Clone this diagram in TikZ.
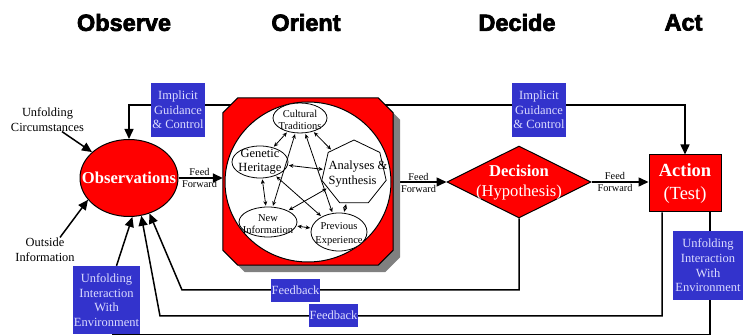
\documentclass[tikz,border=0pt]{standalone}
\usepackage{fontspec}
\setmainfont{Liberation Serif}
\newfontface\titlefont[FakeBold=3]{Liberation Sans Bold}
\usetikzlibrary{shapes.geometric,arrows.meta}
\pgfdeclarelayer{background}
\pgfsetlayers{background,main}
\definecolor{obred}{RGB}{255,0,0}
\definecolor{obblue}{RGB}{51,51,204}
\definecolor{oblav}{RGB}{220,220,255}
\definecolor{obshadow}{RGB}{128,128,128}
\newcommand\fsz[2]{\fontsize{#1}{#2}\selectfont}
\newcommand\octpath[1]{([xshift=15pt]#1.north west) -- ([xshift=-15pt]#1.north east) -- ([yshift=-15pt]#1.north east) -- ([yshift=15pt]#1.south east) -- ([xshift=-15pt]#1.south east) -- ([xshift=15pt]#1.south west) -- ([yshift=15pt]#1.south west) -- ([yshift=-15pt]#1.north west) -- cycle}
\begin{document}
\begin{tikzpicture}[x=1pt,y=-1pt,
 flow/.style={line width=1.5pt, -{Triangle[length=10pt,width=9pt]}},
 plain/.style={line width=1.5pt},
 title/.style={font=\titlefont\fsz{23.5}{26}, inner sep=0},
 bluebox/.style={fill=obblue, text=oblav, align=center, inner sep=0, font=\fsz{12.5}{14.6}},
 inner/.style={ellipse, draw, fill=white, line width=0.8pt, inner sep=0},
 ilab/.style={font=\fsz{10.5}{12.5}, align=center, inner sep=0},
 link/.style={line width=0.8pt, {Stealth[length=4.5pt,width=4pt]}-{Stealth[length=4.5pt,width=4pt]}, shorten <=1pt, shorten >=1pt},
 ff/.style={font=\fsz{10.3}{12}, align=center, inner sep=0},
 side/.style={font=\fsz{12.4}{15}, align=center, inner sep=0},
 octbox/.style={rectangle, minimum width=170pt, minimum height=167pt, inner sep=0},
]
\useasboundingbox (0,0) rectangle (744,336);
\clip (0,0) rectangle (744,336);

% titles
\node[title] (tobs) at (124,22.5) {Observe};
\node[title] (tori) at (306,22.5) {Orient};
\node[title] (tdec) at (517,22.5) {Decide};
\node[title] (tact) at (683.5,22.5) {Act};

% observations
\node[ellipse, draw, fill=obred, line width=1pt, minimum width=98pt, minimum height=77pt, inner sep=0,
  label={[text=white, font=\bfseries\fsz{16.6}{18}, inner sep=0]center:Observations}] (obs) at (129,178) {};

% orient
\node[octbox] (orsh) at (315,188.5) {};
\fill[obshadow] \octpath{orsh};
\node[octbox] (orient) at (308,181.5) {};
\filldraw[fill=obred, line width=1pt] \octpath{orient};
\node[ellipse, draw, fill=white, line width=1pt, minimum width=166pt, minimum height=160pt, inner sep=0] (orc) at (308,182) {};

\node[inner, minimum width=54pt, minimum height=30pt, label={[ilab, yshift=-2pt]center:Cultural\\Traditions}] (cult) at (300,118) {};
\node[inner, minimum width=56pt, minimum height=32pt, label={[ilab, font=\fsz{12.5}{14}]center:Genetic\\Heritage}] (gen) at (260,162) {};
\node[regular polygon, regular polygon sides=7, draw, fill=white, line width=0.8pt, minimum size=66pt, inner sep=0,
  label={[ilab, font=\fsz{12.5}{15}, align=left, xshift=4pt, yshift=-1pt]center:Analyses \&\\Synthesis}] (ana) at (354,173) {};
\node[inner, minimum width=58pt, minimum height=30pt, label={[ilab, yshift=-2pt]center:New\\Information}] (newi) at (268,222) {};
\node[inner, minimum width=56pt, minimum height=38pt, label={[ilab, font=\fsz{10.5}{13.5}, yshift=-2pt]center:Previous\\Experience}] (prev) at (339,232) {};

\draw[link] (cult) -- (gen);
\draw[link] (cult) -- (ana);
\draw[link] (gen) -- (newi);
\draw[link] (ana) -- (prev);
\draw[link] (newi) -- (prev);
\draw[link] (gen) -- (ana);
\draw[link] (cult) -- (newi);
\draw[link] (cult) -- (prev);
\draw[link] (gen) -- (prev);
\draw[link] (ana) -- (newi);

% decision
\node[diamond, draw, fill=obred, line width=1pt, minimum width=144pt, minimum height=72pt, inner sep=0,
  label={[text=white, font=\fsz{16.6}{20}, align=center, inner sep=0, yshift=-1pt]center:\textbf{Decision}\\(Hypothesis)}] (dec) at (519,182) {};

% action
\node[rectangle, draw, fill=obred, line width=1pt, minimum width=72pt, minimum height=57pt, inner sep=0,
  text=white, font=\fsz{18.5}{23}, align=center] (act) at (685,183.5) {\textbf{Action}\\(Test)};

% blue boxes
\node[bluebox, minimum width=54pt, minimum height=54pt] (ig1) at (178,110) {Implicit\\Guidance\\\& Control};
\node[bluebox, minimum width=54pt, minimum height=54pt] (ig2) at (539,110) {Implicit\\Guidance\\\& Control};
\node[bluebox, minimum width=49pt, minimum height=23pt] (fbk1) at (295.5,290.5) {Feedback};
\node[bluebox, minimum width=49pt, minimum height=23pt] (fbk2) at (333.5,315.5) {Feedback};
\node[bluebox, minimum width=67pt, minimum height=68pt] (uil) at (106.5,300) {Unfolding\\Interaction\\With\\Environment};
\node[bluebox, minimum width=70pt, minimum height=69pt] (uir) at (708,265.5) {Unfolding\\Interaction\\With\\Environment};

% side texts
\node[side] (uc) at (47.5,119.5) {Unfolding\\Circumstances};
\node[side] (oi) at (45,249.5) {Outside\\Information};
\node[ff] (ff1) at (199.5,178) {Feed\\Forward};
\node[ff] (ff2) at (418.5,183) {Feed\\Forward};
\node[ff] (ff3) at (615,182) {Feed\\Forward};

% connectors
\begin{pgfonlayer}{background}
\coordinate (igl) at (128,105);
\coordinate (igr) at (685,105);
\draw[flow] (orient.center |- igl) -- (obs.north |- igl) -- (obs.north);
\draw[flow] (orient.center |- igr) -- (act.north |- igr) -- (act.north);
\draw[flow] (obs.east) -- (obs.east -| orient.west);
\draw[flow] (orient.east |- dec.west) -- (dec.west);
\draw[flow] (dec.east) -- (dec.east -| act.west);
\coordinate (fb1) at (182,290);
\draw[flow] (dec.south) -- (dec.south |- fb1) -- (fb1) -- (obs.-60);
\coordinate (fb2r) at (662,316);
\coordinate (fb2l) at (160,316);
\draw[flow] (act.south -| fb2r) -- (fb2r) -- (fb2l) -- (obs.-72);
\coordinate (uer) at (710,334.5);
\coordinate (uel) at (113,334.5);
\draw[plain] (act.south -| uer) -- (uer) -- (uel) -- (uel |- uil.south);
\draw[flow] ([xshift=10pt]uil.north) -- (obs.-85);
\draw[flow] ([xshift=14.5pt]uc.south) -- (obs.145);
\draw[flow] ([xshift=15pt]oi.north) -- (obs.-152);
\end{pgfonlayer}
\end{tikzpicture}
\end{document}
